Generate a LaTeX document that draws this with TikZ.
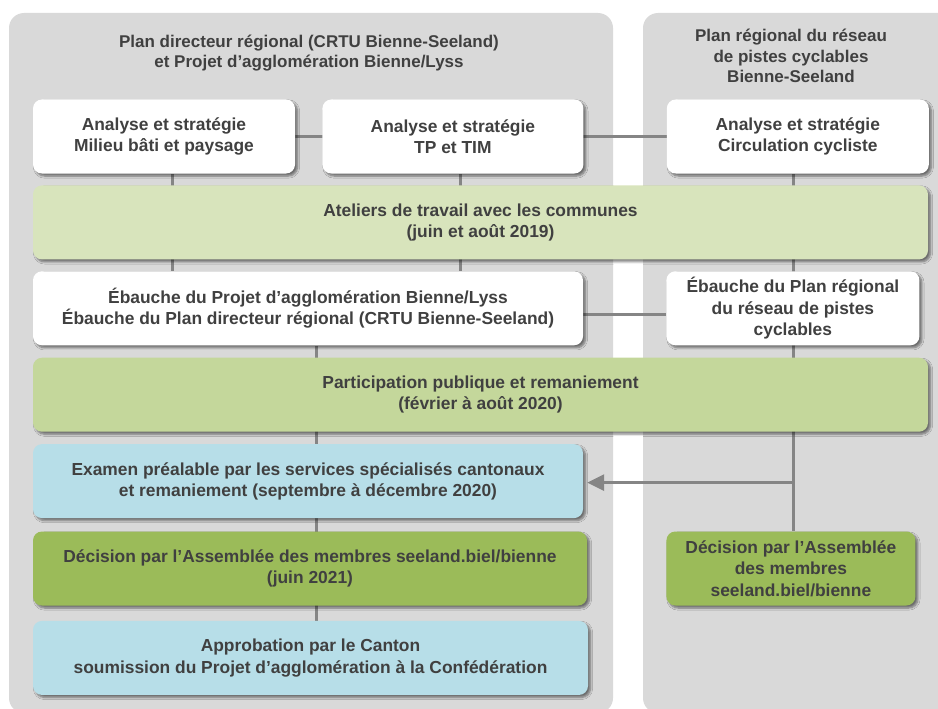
\documentclass[tikz,border=0pt]{standalone}
\usepackage{fontspec}
\setmainfont{Liberation Sans}
\usepackage{xcolor}
\usepackage{tikz}
\usetikzlibrary{positioning,arrows.meta,shadows.blur,backgrounds}

\definecolor{panelgrey}{HTML}{D9D9D9}
\definecolor{linegrey}{HTML}{858585}
\definecolor{textgrey}{HTML}{404040}
\definecolor{paleolive}{HTML}{D8E4BC}
\definecolor{midolive}{HTML}{C4D79B}
\definecolor{olive}{HTML}{9BBB59}
\definecolor{paleblue}{HTML}{B7DEE8}

\begin{document}
\begin{tikzpicture}[x=1pt, y=-1pt, node distance=11.5pt,
    box/.style={rectangle, rounded corners=9pt, align=center, minimum height=74pt, inner sep=0pt,
      font=\fontsize{17.4}{21.3}\selectfont\bfseries, text=textgrey,
      blur shadow={shadow xshift=2.5pt, shadow yshift=-2.5pt, shadow blur steps=6, shadow opacity=50}},
    whitebox/.style={box, fill=white},
    paleolivebox/.style={box, fill=paleolive},
    midolivebox/.style={box, fill=midolive},
    olivebox/.style={box, fill=olive},
    bluebox/.style={box, fill=paleblue},
    paneltitle/.style={align=center, font=\fontsize{17}{20.5}\selectfont\bfseries, text=textgrey},
    panel/.style={fill=panelgrey, rounded corners=15pt},
    link/.style={draw=linegrey, line width=3pt}]
  \useasboundingbox (0,0) rectangle (938,709);

  % Titles
  \node [paneltitle] (lefttitle) at (309,53) {Plan directeur régional (CRTU Bienne-Seeland)\\et Projet d’agglomération Bienne/Lyss};
  \node [paneltitle] (righttitle) at (791,56) {Plan régional du réseau\\de pistes cyclables\\Bienne-Seeland};

  % Boxes
  \node [whitebox, minimum width=262pt] (milieu) at (164,136.5) {Analyse et stratégie\\Milieu bâti et paysage};
  \node [whitebox, minimum width=261pt, right=27pt of milieu] (tptim) {Analyse et stratégie\\TP et TIM};
  \node [whitebox, minimum width=262pt, right=83pt of tptim] (cyclo) {Analyse et stratégie\\Circulation cycliste};
  \node [paleolivebox, minimum width=895pt, below=11.5pt of milieu.south west, anchor=north west] (ateliers) {Ateliers de travail avec les communes\\(juin et août 2019)};
  \node [whitebox, minimum width=550pt, below=11.5pt of ateliers.south west, anchor=north west] (ebauche) {Ébauche du Projet d’agglomération Bienne/Lyss\\Ébauche du Plan directeur régional (CRTU Bienne-Seeland)};
  \node [whitebox, minimum width=253pt, right=83pt of ebauche] (ebauchepr) {Ébauche du Plan régional\\du réseau de pistes\\cyclables};
  \node [midolivebox, minimum width=895pt, below=12pt of ebauche.south west, anchor=north west] (participation) {Participation publique et remaniement\\(février à août 2020)};
  \node [bluebox, minimum width=550pt, below=12pt of participation.south west, anchor=north west] (examen) {Examen préalable par les services spécialisés cantonaux\\et remaniement (septembre à décembre 2020)};
  \node [olivebox, minimum width=554pt, below=13pt of examen.south west, anchor=north west] (decision) {Décision par l’Assemblée des membres seeland.biel/bienne\\(juin 2021)};
  \node [bluebox, minimum width=555pt, below=15pt of decision.south west, anchor=north west] (approbation) {Approbation par le Canton\\soumission du Projet d’agglomération à la Confédération};
  \node [olivebox, minimum width=249pt, right=79pt of decision] (decisionpr) {Décision par l’Assemblée\\des membres\\seeland.biel/bienne};

  % Panels and lines behind the boxes
  \begin{scope}[on background layer]
    \fill [panel] (9,13) rectangle (613,713);
    \fill [panel] (643,13) rectangle (955,713);
    \coordinate (xa) at (172,0);
    \coordinate (xb) at (460,0);
    \coordinate (xc) at (793,0);
    \coordinate (xd) at (316,0);
    \draw [link] (milieu.east) -- (cyclo.west);
    \draw [link] (milieu.south -| xa) -- (ebauche.north -| xa);
    \draw [link] (tptim.south -| xb) -- (ebauche.north -| xb);
    \draw [link] (cyclo.south -| xc) -- (decisionpr.north -| xc);
    \draw [link] (ebauche.south -| xd) -- (approbation.north -| xd);
    \draw [link] ([yshift=-6.5pt]ebauche.east) -- ([yshift=-6.5pt]ebauchepr.west);
  \end{scope}

  % Arrow
  \draw [link, -{Triangle[length=17pt, width=16pt]}, shorten >=4pt] ([yshift=-1.5pt]examen.east -| xc) -- ([yshift=-1.5pt]examen.east);
\end{tikzpicture}
\end{document}
